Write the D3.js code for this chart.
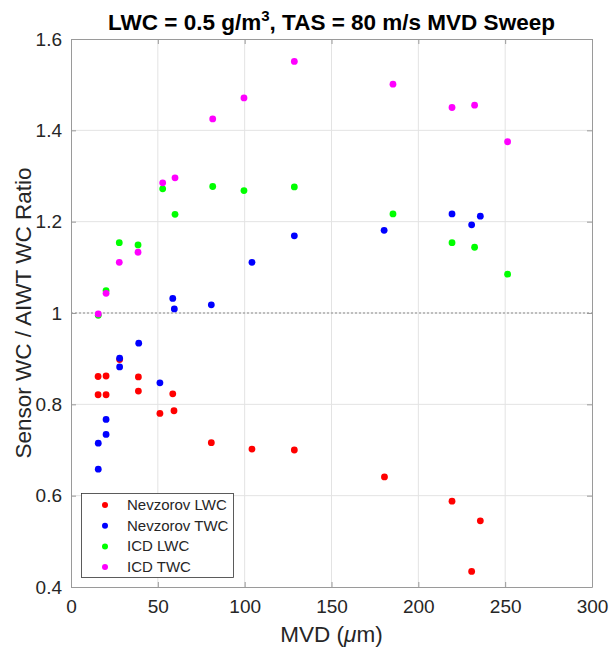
<!DOCTYPE html>
<html><head><meta charset="utf-8">
<script src="https://cdn.jsdelivr.net/npm/d3@7"></script>
<style>body{margin:0;background:#fff;} text{font-family:"Liberation Sans",Arial,sans-serif;}</style>
</head><body><svg id="c" width="612" height="648"></svg>
<script>
// ---- data ----
const nevLwcX = [15.6,15.6,20.2,20.2,28.0,38.8,38.8,51.2,58.6,59.3,80.8,104.2,128.6,180.5,219.4,230.7,235.7];
const nevLwcY = [0.861,0.821,0.862,0.821,0.898,0.860,0.829,0.780,0.823,0.786,0.716,0.702,0.700,0.641,0.588,0.434,0.545];
const nevTwcX = [15.7,15.7,20.2,20.2,28.0,28.0,39.0,51.2,58.6,59.5,80.8,104.2,128.6,180.3,219.4,230.7,235.7];
const nevTwcY = [0.715,0.658,0.767,0.734,0.901,0.882,0.934,0.847,1.032,1.009,1.018,1.111,1.169,1.181,1.217,1.193,1.212];
const icdX    = [15.7,20.2,27.8,38.6,52.8,59.9,81.6,99.6,128.6,185.4,219.4,232.4,251.4];
const icdLwcY = [0.995,1.049,1.154,1.149,1.272,1.216,1.277,1.268,1.276,1.217,1.154,1.144,1.085];
const icdTwcY = [0.998,1.043,1.111,1.133,1.285,1.296,1.425,1.471,1.551,1.501,1.450,1.455,1.375];
const seriesNames = ["Nevzorov LWC","Nevzorov TWC","ICD LWC","ICD TWC"];
const seriesColors = ["#ff0000","#0000ff","#00ff00","#ff00ff"];
const xTicks = [0,50,100,150,200,250,300];
const yTicks = [0.4,0.6,0.8,1.0,1.2,1.4,1.6];

const series = [
  {x: nevLwcX, y: nevLwcY},
  {x: nevTwcX, y: nevTwcY},
  {x: icdX, y: icdLwcY},
  {x: icdX, y: icdTwcY}
];

const L = 71, R = 592, T = 39, B = 587;
const svg = d3.select("#c");
const x = d3.scaleLinear().domain([0,300]).range([L,R]);
const y = d3.scaleLinear().domain([0.4,1.6]).range([B,T]);
const axisCol = "#262626";

// grid
svg.append("g").selectAll("line.gx").data(xTicks.slice(1,-1)).join("line")
  .attr("x1", d=>x(d)).attr("x2", d=>x(d)).attr("y1", T).attr("y2", B)
  .attr("stroke", "#e3e3e3").attr("stroke-width", 1);
svg.append("g").selectAll("line.gy").data(yTicks.slice(1,-1)).join("line")
  .attr("y1", d=>y(d)).attr("y2", d=>y(d)).attr("x1", L).attr("x2", R)
  .attr("stroke", "#e3e3e3").attr("stroke-width", 1);

// reference line at 1
svg.append("line").attr("x1", L).attr("x2", R).attr("y1", y(1)).attr("y2", y(1))
  .attr("stroke", "#8c8c8c").attr("stroke-width", 1.2).attr("stroke-dasharray", "2,2");

// axes
const fmtY = d => d === 1 ? "1" : d3.format(".1f")(d);
const gx = svg.append("g").attr("transform", `translate(0,${B})`)
  .call(d3.axisBottom(x).tickValues(xTicks).tickSizeInner(-5).tickSizeOuter(0).tickPadding(13));
const gy = svg.append("g").attr("transform", `translate(${L},0)`)
  .call(d3.axisLeft(y).tickValues(yTicks).tickFormat(fmtY).tickSizeInner(-5).tickSizeOuter(0).tickPadding(9));
const gx2 = svg.append("g").attr("transform", `translate(0,${T})`)
  .call(d3.axisTop(x).tickValues(xTicks).tickSizeInner(-5).tickSizeOuter(0).tickFormat(""));
const gy2 = svg.append("g").attr("transform", `translate(${R},0)`)
  .call(d3.axisRight(y).tickValues(yTicks).tickSizeInner(-5).tickSizeOuter(0).tickFormat(""));
[gx,gy,gx2,gy2].forEach(g=>{
  g.select(".domain").attr("stroke", "#9a9a9a");
  g.selectAll(".tick line").attr("stroke", "#9a9a9a");
  g.selectAll(".tick text").attr("fill", axisCol).style("font-size","19px")
   .style("font-family","'Liberation Sans',Arial,sans-serif");
});

// points
series.forEach((s,i)=>{
  svg.append("g").selectAll("circle").data(s.x.map((v,j)=>[v,s.y[j]])).join("circle")
    .attr("cx", d=>x(d[0])).attr("cy", d=>y(d[1])).attr("r", 3.4)
    .attr("fill", seriesColors[i]);
});

// title
const title = svg.append("text").attr("x", (L+R)/2).attr("y", 30).attr("text-anchor","middle")
  .style("font-size","22.5px").style("font-weight","bold").attr("fill","#000");
title.append("tspan").text("LWC = 0.5 g/m");
title.append("tspan").attr("dy", -9).style("font-size","15px").text("3");
title.append("tspan").attr("dy", 9).text(", TAS = 80 m/s MVD Sweep");

// axis labels
const xl = svg.append("text").attr("x", (L+R)/2).attr("y", 642).attr("text-anchor","middle")
  .style("font-size","22.5px").attr("fill", axisCol);
xl.append("tspan").text("MVD (");
xl.append("tspan").style("font-style","italic").text("μ");
xl.append("tspan").text("m)");
svg.append("text").attr("transform", `translate(31,${(T+B)/2}) rotate(-90)`).attr("text-anchor","middle")
  .style("font-size","22.5px").attr("fill", axisCol).text("Sensor WC / AIWT WC Ratio");

// legend
const lg = svg.append("g");
lg.append("rect").attr("x", 81.5).attr("y", 493.5).attr("width", 152).attr("height", 84)
  .attr("fill","#fff").attr("stroke","#333").attr("stroke-width", 0.8);
seriesNames.forEach((n,i)=>{
  const yy = 505 + i*20.7;
  lg.append("circle").attr("cx", 105).attr("cy", yy).attr("r", 3).attr("fill", seriesColors[i]);
  lg.append("text").attr("x", 127).attr("y", yy+5).style("font-size","15px").attr("fill", axisCol).text(n);
});
</script></body></html>
